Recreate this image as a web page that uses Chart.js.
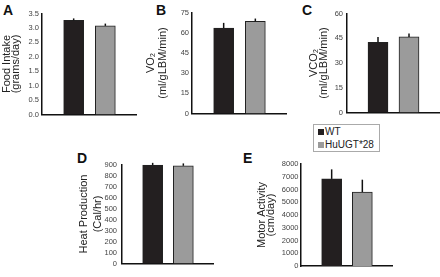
<!DOCTYPE html>
<html>
<head>
<meta charset="utf-8">
<script src="https://cdn.jsdelivr.net/npm/chart.js@4.4.1/dist/chart.umd.min.js"></script>
<style>
  body { margin: 0; background: #fff; }
  #wrap { position: relative; width: 440px; height: 277px; overflow: hidden; font-family: "Liberation Sans", Arial, sans-serif; }
  canvas { position: absolute; }
  .tag { position: absolute; font-weight: bold; font-size: 14px; line-height: 14px; color: #111; }
  #legend { position: absolute; left: 313px; top: 124px; width: 65px; height: 26px; border: 1px solid #aaa; font-size: 10px; color: #222; }
  #legend div { height: 13px; line-height: 13px; padding-left: 4px; white-space: nowrap; }
  #legend span { display: inline-block; width: 6px; height: 6px; margin-right: 1px; vertical-align: 0px; }
</style>
</head>
<body>
<div id="wrap">
  <div class="tag" style="left:3px;top:3px">A</div>
  <div class="tag" style="left:156px;top:3px">B</div>
  <div class="tag" style="left:302px;top:3px">C</div>
  <div class="tag" style="left:77px;top:151px">D</div>
  <div class="tag" style="left:243px;top:151px">E</div>
  <canvas id="chartA"></canvas>
  <canvas id="chartB"></canvas>
  <canvas id="chartC"></canvas>
  <canvas id="chartD"></canvas>
  <canvas id="chartE"></canvas>
  <div id="legend"></div>
</div>
<script>
// groups and colours
const groups = ['WT', 'HuUGT*28'];
const groupColors = ['#231f20', '#9b9b9b'];

// values (mean, upper error)
const foodIntake = [3.26, 3.07];
const foodIntakeErr = [0.07, 0.08];
const vo2 = [63.5, 68.5];
const vo2Err = [3.8, 2.0];
const vco2 = [42.6, 45.8];
const vco2Err = [3.2, 2.1];
const heatProduction = [895, 888];
const heatProductionErr = [20, 22];
const motorActivity = [6830, 5800];
const motorActivityErr = [750, 970];

// axis ranges
const foodTicks = { max: 3.5, step: 0.5 };
const vo2Ticks = { max: 75, step: 15 };
const vco2Ticks = { max: 60, step: 15 };
const heatTicks = { max: 900, step: 100 };
const motorTicks = { max: 8000, step: 1000 };

const fontFamily = '"Liberation Sans", Arial, sans-serif';

// draws the upward error bar over each bar
const errorBars = {
    id: 'errorBars',
    afterDatasetsDraw(chart) {
        const ctx = chart.ctx;
        const yScale = chart.scales.y;
        const ds = chart.data.datasets[0];
        const meta = chart.getDatasetMeta(0);
        ctx.save();
        ctx.strokeStyle = '#111';
        ctx.lineWidth = 1.5;
        meta.data.forEach((bar, i) => {
            const v = ds.data[i];
            if (v === null) return;
            const top = yScale.getPixelForValue(v + ds.errors[i]);
            ctx.beginPath();
            ctx.moveTo(bar.x, bar.y);
            ctx.lineTo(bar.x, top);
            ctx.stroke();
        });
        ctx.restore();
    }
};

function makePanel(id, values, errors, range, title, box) {
    const canvas = document.getElementById(id);
    const padTop = 6, padBottom = 4;
    canvas.width = box.right - box.x0;
    canvas.height = box.bottom - box.top + padTop + padBottom;
    canvas.style.left = box.x0 + 'px';
    canvas.style.top = (box.top - padTop) + 'px';

    return new Chart(canvas, {
        type: 'bar',
        data: {
            labels: ['', ...groups, ''],
            datasets: [{
                data: [null, ...values, null],
                errors: [0, ...errors, 0],
                backgroundColor: ['#fff', ...groupColors, '#fff'],
                borderColor: '#222',
                borderWidth: 1,
                barThickness: 20
            }]
        },
        options: {
            responsive: false,
            animation: false,
            layout: { padding: { top: padTop, bottom: padBottom, left: 0, right: 0 } },
            plugins: { legend: { display: false }, tooltip: { enabled: false } },
            scales: {
                x: {
                    offset: false,
                    grid: { display: false },
                    ticks: { display: false },
                    border: { display: true, color: '#111', width: 1.5 },
                    afterFit: (s) => { s.height = 0; }
                },
                y: {
                    min: 0,
                    max: range.max,
                    grid: { display: false, drawTicks: false },
                    border: { display: true, color: '#111', width: 1.5 },
                    ticks: {
                        stepSize: range.step,
                        autoSkip: false,
                        padding: box.tickPad,
                        color: '#444',
                        font: { family: fontFamily, size: 7.5 },
                        callback: (v) => range.step < 1 ? v.toFixed(1) : v
                    },
                    title: {
                        display: true,
                        text: title,
                        color: '#222',
                        padding: { top: box.titlePad, bottom: 0 },
                        font: { family: fontFamily, size: 11, lineHeight: box.lineHeight }
                    },
                    afterFit: (s) => { s.width = box.left - box.x0; }
                }
            }
        },
        plugins: [errorBars]
    });
}

makePanel('chartA', foodIntake, foodIntakeErr, foodTicks, ['Food Intake', '(grams/day)'],
    { x0: 0, left: 42, right: 137, top: 12, bottom: 118, tickPad: 3, titlePad: 2.5, lineHeight: 0.82 });
makePanel('chartB', vo2, vo2Err, vo2Ticks, ['VO\u2082', '(ml/gLBM/min)'],
    { x0: 140, left: 192, right: 287, top: 11, bottom: 117, tickPad: 3, titlePad: 5, lineHeight: 1.09 });
makePanel('chartC', vco2, vco2Err, vco2Ticks, ['VCO\u2082', '(ml/gLBM/min)'],
    { x0: 300, left: 347, right: 440, top: 11, bottom: 117, tickPad: 4, titlePad: 8.5, lineHeight: 0.91 });
makePanel('chartD', heatProduction, heatProductionErr, heatTicks, ['Heat Production', '(Cal/hr)'],
    { x0: 70, left: 122, right: 214, top: 160.5, bottom: 269, tickPad: 5, titlePad: 6, lineHeight: 1.36 });
makePanel('chartE', motorActivity, motorActivityErr, motorTicks, ['Motor Activity', '(cm/day)'],
    { x0: 250, left: 301, right: 393, top: 162.5, bottom: 269, tickPad: 2.5, titlePad: 7.5, lineHeight: 0.82 });

// legend box
const legend = document.getElementById('legend');
groups.forEach((g, i) => {
    const row = document.createElement('div');
    const sw = document.createElement('span');
    sw.style.background = groupColors[i];
    row.appendChild(sw);
    row.appendChild(document.createTextNode(g));
    legend.appendChild(row);
});
</script>
</body>
</html>
